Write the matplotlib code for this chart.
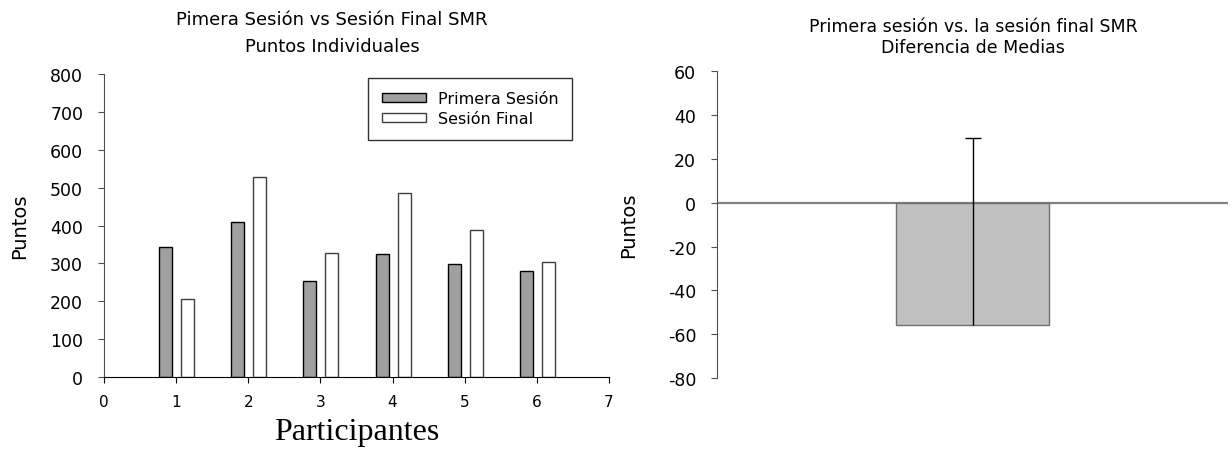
import numpy as np
import matplotlib
matplotlib.use("Agg")
import matplotlib.pyplot as plt

# datos
participantes = [1, 2, 3, 4, 5, 6]
primera_sesion = [342, 408, 254, 325, 298, 279]
sesion_final = [206, 527, 328, 487, 388, 303]

dif_media = [-55.7]
dif_error = [85.1]

plt.rcParams['font.family'] = ['DejaVu Sans']
plt.rcParams['axes.unicode_minus'] = False

fig = plt.figure(figsize=(12.32, 4.52), dpi=100)

# ---- panel izquierdo: puntos individuales
ax1 = fig.add_axes([0.0844, 0.1637, 0.4099, 0.6703])
x = np.asarray(participantes)
ax1.bar(x - 0.145, primera_sesion, width=0.18, color='#a0a0a0',
        edgecolor='black', linewidth=1.0, label='Primera Sesión')
ax1.bar(x + 0.16, sesion_final, width=0.18, color='white',
        edgecolor='#404040', linewidth=1.0, label='Sesión Final')
ax1.set_xlim(0, 7)
ax1.set_ylim(0, 800)
ax1.set_xticks(range(0, 8))
ax1.set_yticks(range(0, 801, 100))
ax1.spines['top'].set_visible(False)
ax1.spines['right'].set_visible(False)
ax1.spines['left'].set_color('#505050')
ax1.spines['bottom'].set_color('black')
ax1.tick_params(axis='y', labelsize=12.5, length=4, color='#505050', pad=11)
ax1.tick_params(axis='x', labelsize=11, length=4, pad=8)
ax1.set_ylabel('Puntos', fontsize=14)
ax1.yaxis.set_label_coords(-0.148, 0.5)
ax1.set_xlabel('Participantes', fontsize=23, family='Liberation Serif', labelpad=6)
fig.text(0.2695, 0.9558, 'Pimera Sesión vs Sesión Final SMR',
         fontsize=13, ha='center', va='center')
fig.text(0.2695, 0.896, 'Puntos Individuales',
         fontsize=13, ha='center', va='center')
leg = ax1.legend(loc='upper left', bbox_to_anchor=(0.523, 0.988),
                 fontsize=11.5, frameon=True, fancybox=False,
                 handlelength=2.8, handleheight=0.45, borderpad=0.85,
                 labelspacing=0.3, handletextpad=0.7, borderaxespad=0)
leg.get_frame().set_edgecolor('black')
leg.get_frame().set_linewidth(1.0)

# ---- panel derecho: diferencia de medias
ax2 = fig.add_axes([0.582, 0.1615, 0.4148, 0.6785])
ax2.bar([1], dif_media, width=0.6, color='#c0c0c0', edgecolor='#707070',
        linewidth=1.0)
eb = ax2.errorbar([1], dif_media, yerr=[[0], dif_error], fmt='none',
                  ecolor='black', elinewidth=1.0, capsize=6, capthick=1.0)
eb[1][0].set_visible(False)
ax2.axhline(0, color='#808080', linewidth=1.6, zorder=0)
ax2.set_xlim(0, 2)
ax2.set_ylim(-80, 60)
ax2.set_yticks(range(-80, 61, 20))
ax2.set_xticks([])
for s in ['top', 'right', 'bottom']:
    ax2.spines[s].set_visible(False)
ax2.spines['left'].set_color('#505050')
ax2.tick_params(axis='y', labelsize=12.5, length=4, color='#505050', pad=11)
ax2.set_ylabel('Puntos', fontsize=14)
ax2.yaxis.set_label_coords(-0.154, 0.5)
fig.text(0.79, 0.940, 'Primera sesión vs. la sesión final SMR',
         fontsize=12.5, ha='center', va='center')
fig.text(0.79, 0.894, 'Diferencia de Medias',
         fontsize=12.5, ha='center', va='center')

fig.savefig('out.png', dpi=100)
